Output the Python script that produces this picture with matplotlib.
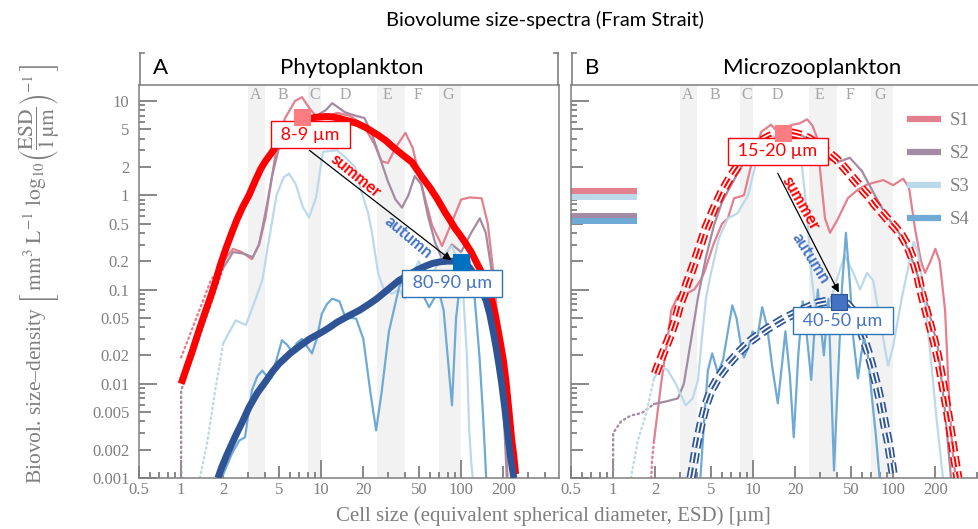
import matplotlib
matplotlib.use("Agg")
import matplotlib.pyplot as plt
from matplotlib.lines import Line2D
from matplotlib.ticker import FixedLocator, FixedFormatter, NullFormatter

plt.rcParams["lines.scale_dashes"] = False
plt.rcParams["mathtext.fontset"] = "stix"
plt.rcParams["font.family"] = ["Liberation Serif", "DejaVu Serif"]

# ---------------- data ----------------
series_names = ["S1", "S2", "S3", "S4"]

x_ticks = [0.5, 1, 2, 5, 10, 20, 50, 100, 200]
x_tick_labels = ["0.5", "1", "2", "5", "10", "20", "50", "100", "200"]
x_minor = [0.6, 0.7, 0.8, 0.9, 3, 4, 6, 7, 8, 9, 30, 40, 60, 70, 80, 90, 300, 400]
y_ticks = [0.001, 0.002, 0.005, 0.01, 0.02, 0.05, 0.1, 0.2, 0.5, 1, 2, 5, 10]
y_tick_labels = ["0.001", "0.002", "0.005", "0.01", "0.02", "0.05", "0.1",
                 "0.2", "0.5", "1", "2", "5", "10"]
y_minor = [0.003, 0.004, 0.006, 0.007, 0.008, 0.009, 0.03, 0.04, 0.06, 0.07,
           0.08, 0.09, 0.3, 0.4, 0.6, 0.7, 0.8, 0.9, 3, 4, 6, 7, 8, 9]
decades = [0.001, 0.01, 0.1, 1, 10, 100]

band_letters = ["A", "B", "C", "D", "E", "F", "G"]
band_letter_x = [3.4, 5.3, 9, 15, 30, 49, 81]
bands = [(3, 4), (8, 10), (25, 40), (70, 100)]

# panel A - phytoplankton
a_s1_x = [2.0, 2.35, 2.7, 3.2, 3.6, 4.0, 4.4, 4.75, 5.5, 6.5, 7.3, 8.2, 9.5, 11, 13, 16, 20, 24,
          27, 30, 34, 40, 45, 52, 62, 73, 85, 100, 115, 140, 155, 174, 190, 205, 215]
a_s1_y = [0.2, 0.27, 0.25, 0.21, 0.3, 0.57, 1.4, 2.9, 6.5, 10, 11, 8.5, 6.5, 6.8, 7.5, 7.0, 5.6,
          3.5, 2.3, 2.2, 3.2, 4.6, 3.2, 1.3, 0.48, 0.29, 0.5, 0.9, 0.95, 0.93, 0.5, 0.11, 0.02,
          0.004, 0.001]
a_s2_x = [2.0, 2.35, 2.8, 3.25, 3.6, 4.0, 4.46, 5.0, 5.6, 7.0, 8.5, 10.8, 12, 14.8, 17.5, 20.4, 23,
          25.5, 30, 34, 37.8, 42, 46.6, 52, 58, 65, 73, 86, 100, 118, 136, 150, 166, 185, 200, 212]
a_s2_y = [0.17, 0.25, 0.24, 0.22, 0.3, 0.65, 1.6, 3.2, 5.2, 6.5, 6.5, 8, 9.5, 7.6, 7.0, 6.6, 4.5,
          2.87, 1.4, 0.9, 0.74, 1.0, 1.6, 1.3, 0.6, 0.32, 0.21, 0.3, 0.25, 0.4, 0.57, 0.4, 0.15,
          0.03, 0.006, 0.001]
a_s3_x = [2.0, 2.2, 2.45, 2.9, 3.3, 3.8, 4.1, 4.8, 5.4, 5.9, 6.6, 7.4, 8.2, 9.2, 10.3, 13, 15, 17.4,
          19, 21.6, 23, 25.5, 28, 32, 36, 40, 45, 50, 56, 63, 70, 78, 86, 95, 103, 110, 114, 118, 121]
a_s3_y = [0.027, 0.035, 0.047, 0.042, 0.07, 0.125, 0.25, 1.0, 1.55, 1.7, 1.3, 0.75, 0.58, 0.95,
          2.9, 3.0, 2.5, 2.0, 1.2, 0.66, 0.41, 0.15, 0.1, 0.09, 0.1, 0.08, 0.15, 0.2, 0.12, 0.15,
          0.2, 0.25, 0.29, 0.2, 0.1, 0.02, 0.0034, 0.0015, 0.001]
a_s4_x = [2.0, 2.3, 2.6, 2.86, 3.2, 3.5, 3.8, 4.1, 4.4, 4.8, 5.25, 5.7, 6.2, 6.7, 7.3, 7.9, 8.6,
          9.3, 10.1, 11, 12, 13.5, 15, 16.5, 17.8, 20, 22.5, 24.7, 27, 30.5, 36, 40, 45, 50, 55,
          59, 64, 69, 75, 80, 86, 92, 100, 108, 115, 125, 135, 143, 151]
a_s4_y = [0.0011, 0.0018, 0.0025, 0.0027, 0.0085, 0.012, 0.0138, 0.012, 0.0115, 0.018, 0.029,
          0.026, 0.022, 0.027, 0.03, 0.025, 0.021, 0.03, 0.055, 0.07, 0.08, 0.075, 0.049, 0.05,
          0.049, 0.03, 0.008, 0.0032, 0.008, 0.036, 0.105, 0.15, 0.16, 0.12, 0.08, 0.065, 0.08,
          0.1, 0.06, 0.02, 0.0059, 0.05, 0.15, 0.22, 0.2, 0.08, 0.02, 0.005, 0.001]
a_s1_dot_x = [1.0, 1.63, 2.0]
a_s1_dot_y = [0.019, 0.125, 0.2]
a_s2_dot_x = [1.0, 1.0, 1.86, 2.0]
a_s2_dot_y = [0.001, 0.0085, 0.125, 0.17]
a_s3_dot_x = [1.36, 1.53, 1.75, 2.0]
a_s3_dot_y = [0.001, 0.0023, 0.0085, 0.027]

a_summer_x = [1.0, 1.2, 1.35, 1.5, 1.65, 1.77, 1.9, 2.09, 2.3, 2.5, 2.75, 3.05, 3.4, 3.7, 4.0,
              4.46, 5.0, 5.5, 6.0, 6.6, 7.3, 8.0, 9.0, 10, 11, 12, 13.3, 14.8, 16, 18, 21, 25.5,
              29, 33, 38, 44.6, 52, 60, 68, 76.7, 83, 90, 98, 106.7, 118, 132, 141, 151, 163, 175,
              182, 190, 200, 209, 220, 230, 237, 245]
a_summer_y = [0.01, 0.022, 0.038, 0.06, 0.09, 0.125, 0.18, 0.273, 0.4, 0.55, 0.75, 1.0, 1.45,
              1.9, 2.3, 2.87, 3.7, 4.3, 5.0, 5.6, 6.1, 6.4, 6.7, 6.8, 6.85, 6.8, 6.6, 6.3, 6.1,
              5.8, 5.2, 4.35, 3.8, 3.2, 2.7, 2.24, 1.6, 1.2, 0.9, 0.66, 0.55, 0.45, 0.38, 0.316,
              0.25, 0.18, 0.15, 0.125, 0.085, 0.055, 0.04, 0.028, 0.018, 0.0107, 0.005, 0.0025,
              0.0018, 0.0011]
a_autumn_x = [1.83, 1.95, 2.1, 2.3, 2.5, 2.75, 3.05, 3.5, 4.0, 4.5, 5.0, 6.0, 7.0, 8.3, 9.7, 11.3,
              13, 15.5, 18.7, 22, 25, 30, 36, 43, 50, 57, 63, 71, 80, 90, 100, 108, 115, 122, 130,
              140, 151, 160, 170, 178, 186, 195, 205, 215, 225, 238]
a_autumn_y = [0.001, 0.0013, 0.0017, 0.0023, 0.003, 0.004, 0.0056, 0.008, 0.0105, 0.0135,
              0.0163, 0.021, 0.025, 0.03, 0.034, 0.039, 0.045, 0.052, 0.06, 0.07, 0.08, 0.1,
              0.125, 0.145, 0.165, 0.18, 0.19, 0.197, 0.2, 0.2, 0.195, 0.185, 0.17, 0.15, 0.13,
              0.1, 0.076, 0.055, 0.035, 0.024, 0.016, 0.01, 0.0055, 0.003, 0.0017, 0.001]
a_peaks = [(7.35, 6.8), (100, 0.194)]
a_peak_labels = ["8-9 µm", "80-90 µm"]

# panel B - microzooplankton
b_s1_x = [1.96, 2.2, 2.45, 2.6, 2.9, 3.3, 3.8, 4.2, 4.46, 5.2, 6.0, 6.6, 7.3, 8.6, 9.7, 11.4, 13.4,
          15, 17, 19, 21.5, 24.3, 26.5, 28.6, 30.5, 32.6, 35.4, 40, 47.5, 56, 65, 74, 85, 100, 118,
          130, 143, 158, 169, 185, 200, 215, 235, 250, 265, 280]
b_s1_y = [0.0025, 0.01, 0.03, 0.06, 0.085, 0.09, 0.1, 0.125, 0.15, 0.3, 0.5, 0.57, 0.93, 1.0, 2.1,
          4.7, 5.6, 4.7, 5.2, 5.6, 5.8, 6.4, 5.5, 4.1, 1.5, 0.57, 0.4, 0.55, 0.93, 1.15, 1.3, 1.37,
          1.45, 1.28, 1.5, 1.2, 0.45, 0.2, 0.15, 0.2, 0.27, 0.2, 0.06, 0.008, 0.002, 0.001]
b_s2_x = [1.96, 2.4, 2.9, 3.2, 3.6, 4.04, 4.6, 5.25, 6.0, 6.95, 8.6, 10.5, 13, 16, 21.6, 26, 30,
          35, 40, 49, 60, 74, 90, 110, 128, 150, 175, 209, 235, 259]
b_s2_y = [0.0061, 0.0065, 0.007, 0.01, 0.029, 0.083, 0.22, 0.48, 0.85, 1.28, 2.24, 3.2, 4.0, 4.4,
          4.4, 3.8, 3.0, 2.4, 2.24, 2.5, 1.8, 1.0, 0.6, 0.4, 0.27, 0.14, 0.07, 0.024, 0.005, 0.001]
b_s3_x = [1.96, 2.2, 2.45, 2.8, 3.3, 3.7, 4.04, 4.3, 4.6, 5.0, 5.7, 6.6, 7.7, 9.2, 10.7, 13, 16,
          19, 22, 24, 26, 28, 31, 36, 41, 45, 52, 58, 65, 72, 80, 92, 100, 115, 131, 140, 150, 165,
          185, 205, 227]
b_s3_y = [0.0115, 0.015, 0.014, 0.01, 0.0059, 0.007, 0.011, 0.03, 0.08, 0.15, 0.35, 0.57, 0.64,
          1.0, 2.5, 4.0, 4.5, 4.3, 2.5, 0.73, 0.15, 0.06, 0.04, 0.08, 0.15, 0.23, 0.15, 0.1, 0.15,
          0.125, 0.05, 0.0155, 0.025, 0.08, 0.2, 0.32, 0.25, 0.1, 0.02, 0.004, 0.001]
b_s4_x = [4.2, 4.5, 4.75, 5.1, 5.6, 6.1, 6.6, 7.1, 7.6, 8.1, 8.6, 9.3, 9.9, 10.7, 11.6, 12.6, 13.7,
          15, 16, 17, 18.3, 19.5, 21, 22.6, 24.3, 26, 27.5, 29, 30.5, 32, 34.5, 37.8, 41, 43.2, 46,
          49.2, 52, 56, 59, 62, 66, 70, 75, 80]
b_s4_y = [0.001, 0.0048, 0.0138, 0.021, 0.013, 0.018, 0.036, 0.068, 0.05, 0.028, 0.019, 0.025,
          0.036, 0.03, 0.065, 0.04, 0.015, 0.0062, 0.015, 0.036, 0.012, 0.0027, 0.02, 0.075, 0.03,
          0.011, 0.04, 0.1, 0.04, 0.02, 0.08, 0.0012, 0.02, 0.11, 0.4, 0.11, 0.03, 0.0114, 0.02,
          0.031, 0.02, 0.008, 0.003, 0.001]
b_s1_dot_x = [1.87, 1.9, 1.96]
b_s1_dot_y = [0.001, 0.0016, 0.0025]
b_s2_dot_x = [1.0, 1.0, 1.14, 1.34, 1.6, 1.96]
b_s2_dot_y = [0.0012, 0.003, 0.004, 0.0046, 0.0049, 0.0061]
b_s3_dot_x = [1.34, 1.5, 1.72, 1.96]
b_s3_dot_y = [0.001, 0.0025, 0.0048, 0.0115]

b_summer_x = [2.0, 2.15, 2.3, 2.5, 2.68, 2.85, 3.0, 3.2, 3.36, 3.7, 4.04, 4.6, 5.25, 6.0, 6.95,
              7.7, 8.6, 9.5, 10.5, 11.7, 13, 14.5, 16, 18, 20, 22.5, 25, 27.5, 30, 33, 36, 39.5,
              43, 47, 52, 57, 62, 68, 74, 82, 92, 103, 115, 127, 140, 150, 160, 172, 185, 197,
              209, 224, 240, 256, 272, 290]
b_summer_y = [0.0128, 0.017, 0.022, 0.03, 0.04, 0.053, 0.07, 0.09, 0.115, 0.17, 0.25, 0.45, 0.72,
              1.1, 1.6, 2.0, 2.5, 2.95, 3.4, 3.85, 4.2, 4.45, 4.6, 4.65, 4.5, 4.3, 4.0, 3.65, 3.3,
              3.0, 2.7, 2.4, 2.1, 1.8, 1.5, 1.28, 1.1, 0.95, 0.8, 0.67, 0.55, 0.46, 0.375, 0.29,
              0.2, 0.14, 0.09, 0.06, 0.04, 0.028, 0.019, 0.011, 0.006, 0.0033, 0.0018, 0.001]
b_autumn_x = [3.6, 3.75, 3.9, 4.05, 4.24, 4.6, 5.0, 5.7, 6.6, 8.0, 9.7, 12.5, 16.6, 22, 29, 35,
              41, 47, 51, 54, 58, 62, 66, 70, 74, 78, 82, 85, 88, 92, 97, 101]
b_autumn_y = [0.001, 0.0014, 0.002, 0.0027, 0.0037, 0.006, 0.0085, 0.012, 0.016, 0.022, 0.029,
              0.038, 0.049, 0.06, 0.072, 0.076, 0.077, 0.07, 0.061, 0.05, 0.039, 0.029, 0.022,
              0.016, 0.0115, 0.0085, 0.006, 0.0045, 0.0034, 0.0025, 0.0015, 0.001]
b_peaks = [(16.3, 4.57), (40.9, 0.0745)]
b_peak_labels = ["15-20 µm", "40-50 µm"]

# total level bars at the left of panel B (S1..S4)
b_bar_x = [0.5, 1.48]
b_bar_y = [1.1, 0.6, 0.95, 0.53]

# ---------------- style ----------------
W, H = 979, 529
GRAY = "#7f7f7f"
BAND = "#f2f2f2"
SANS = "Lato"
S_COLORS = ["#e3808f", "#a48aa2", "#bcd9ea", "#6eaad4"]
RED = "#ff0000"
DARKBLUE = "#2f5597"
TEXTBLUE = "#4472c4"


def fx(px):
    return px / W


def fy(py):
    return 1 - py / H


def setup(ax, show_labels):
    ax.set_xscale("log")
    ax.set_yscale("log")
    ax.set_xlim(0.5, 500)
    ax.set_ylim(0.001, 14.8)
    for lo, hi in bands:
        ax.axvspan(lo, hi, color=BAND, lw=0, zorder=0)
    for letter, xv in zip(band_letters, band_letter_x):
        ax.text(xv, 0.975, letter, transform=ax.get_xaxis_transform(), ha="center",
                va="center", color="#a6a6a6", fontsize=11.5)
    ax.xaxis.set_major_locator(FixedLocator(x_ticks))
    ax.xaxis.set_major_formatter(FixedFormatter(x_tick_labels))
    ax.xaxis.set_minor_locator(FixedLocator(x_minor))
    ax.xaxis.set_minor_formatter(NullFormatter())
    ax.yaxis.set_major_locator(FixedLocator(y_ticks))
    if show_labels:
        ax.yaxis.set_major_formatter(FixedFormatter(y_tick_labels))
    else:
        ax.yaxis.set_major_formatter(NullFormatter())
    ax.yaxis.set_minor_locator(FixedLocator(y_minor))
    ax.yaxis.set_minor_formatter(NullFormatter())
    ax.tick_params(which="both", direction="in", color=GRAY, width=1.3,
                   labelcolor=GRAY, labelsize=12)
    ax.tick_params(which="major", length=8.5)
    ax.tick_params(which="minor", length=4.5)
    ax.tick_params(axis="x", pad=3)
    ax.tick_params(axis="y", pad=7)
    for sp in ax.spines.values():
        sp.set_color(GRAY)
        sp.set_linewidth(1.1)
    for tick, v in zip(ax.xaxis.get_major_ticks(), x_ticks):
        if v in decades:
            tick.tick1line.set_markersize(13)
    for tick, v in zip(ax.yaxis.get_major_ticks(), y_ticks):
        if v in decades:
            tick.tick1line.set_markersize(13)


def spectra(ax, curves, dots):
    for (xs, ys), c in zip(curves, S_COLORS):
        ax.plot(xs, ys, color=c, lw=1.6, zorder=2, solid_joinstyle="round")
    for (xs, ys), c in zip(dots, S_COLORS):
        ax.plot(xs, ys, color=c, lw=1.7, ls=(0, (1, 2.6)), dash_capstyle="round", zorder=2)


def striped(ax, xs, ys, color):
    dash = (0, (7.5, 3.5))
    ax.plot(xs, ys, color=color, lw=6.5, ls=dash, dash_capstyle="butt", zorder=3)
    ax.plot(xs, ys, color="white", lw=4.0, ls=dash, dash_capstyle="butt", zorder=3)
    ax.plot(xs, ys, color=color, lw=1.5, ls=dash, dash_capstyle="butt", zorder=3)


def peak_box(ax, xy, text, offset, tcolor, ecolor):
    ax.annotate(" " + text + " ", xy=xy, xytext=offset, textcoords="offset pixels",
                ha="center", va="center", fontsize=13, family=SANS, color=tcolor, zorder=6,
                bbox=dict(boxstyle="square,pad=0.3", fc="white", ec=ecolor, lw=1.0))


def marker(ax, xy, fc, ec):
    ax.plot([xy[0]], [xy[1]], ls="none", marker="s", ms=11.5, mfc=fc, mec=ec, mew=0.8, zorder=7)


def arrow(ax, tail, head):
    ax.annotate("", xy=head, xytext=tail, zorder=6,
                arrowprops=dict(arrowstyle="-|>", color="black", lw=0.9,
                                mutation_scale=12, shrinkA=0, shrinkB=0))


def season(ax, xy, text, color, rot):
    ax.text(xy[0], xy[1], text, color=color, rotation=rot, rotation_mode="anchor",
            ha="center", va="center", fontsize=12, family=SANS, fontweight="bold", zorder=6)


fig = plt.figure(figsize=(W / 100, H / 100), dpi=100)
ax_a = fig.add_axes([fx(139), fy(478), 420 / W, 393 / H])
ax_b = fig.add_axes([fx(571), fy(478), 420 / W, 393 / H])
setup(ax_a, True)
setup(ax_b, False)

# ---- panel A ----
spectra(ax_a, [(a_s1_x, a_s1_y), (a_s2_x, a_s2_y), (a_s3_x, a_s3_y), (a_s4_x, a_s4_y)],
        [(a_s1_dot_x, a_s1_dot_y), (a_s2_dot_x, a_s2_dot_y), (a_s3_dot_x, a_s3_dot_y)])
ax_a.plot(a_summer_x, a_summer_y, color=RED, lw=5, zorder=3, solid_capstyle="butt",
          solid_joinstyle="round")
ax_a.plot(a_autumn_x, a_autumn_y, color="#2f5496", lw=5, zorder=3, solid_capstyle="butt",
          solid_joinstyle="round")
arrow(ax_a, (8.25, 3.0), (85.3, 0.204))
season(ax_a, (17.6, 1.59), "summer", RED, -39)
season(ax_a, (42, 0.357), "autumn", TEXTBLUE, -40)
peak_box(ax_a, a_peaks[0], a_peak_labels[0], (8, -18), RED, RED)
peak_box(ax_a, a_peaks[1], a_peak_labels[1], (-9, -21), TEXTBLUE, "#2e75b6")
marker(ax_a, a_peaks[0], "#ff7c80", "#ff7c80")
marker(ax_a, a_peaks[1], "#0070c0", "#0070c0")

# ---- panel B ----
for yv, c in zip(b_bar_y, S_COLORS):
    ax_b.plot(b_bar_x, [yv, yv], color=c, lw=4.3, solid_capstyle="butt", zorder=2)
spectra(ax_b, [(b_s1_x, b_s1_y), (b_s2_x, b_s2_y), (b_s3_x, b_s3_y), (b_s4_x, b_s4_y)],
        [(b_s1_dot_x, b_s1_dot_y), (b_s2_dot_x, b_s2_dot_y), (b_s3_dot_x, b_s3_dot_y)])
striped(ax_b, b_summer_x, b_summer_y, RED)
striped(ax_b, b_autumn_x, b_autumn_y, DARKBLUE)
arrow(ax_b, (15, 1.71), (40.9, 0.093))
season(ax_b, (21.9, 0.82), "summer", RED, -60)
season(ax_b, (25.8, 0.214), "autumn", TEXTBLUE, -58)
peak_box(ax_b, b_peaks[0], b_peak_labels[0], (-5, -18), RED, RED)
peak_box(ax_b, b_peaks[1], b_peak_labels[1], (4, -19), TEXTBLUE, "#2e75b6")
marker(ax_b, b_peaks[0], "#ff7c80", "#ff7c80")
marker(ax_b, b_peaks[1], TEXTBLUE, "#2f528f")

handles = [Line2D([], [], color=c, lw=4.5) for c in S_COLORS]
fig.legend(handles, series_names, loc="upper left", bbox_to_anchor=(fx(910), fy(112)),
           frameon=False, handlelength=1.5, handletextpad=0.6, labelspacing=0.85,
           borderaxespad=0, borderpad=0, fontsize=13.5, labelcolor=GRAY)

# ---- panel headers ----
for x0, x1 in [(140, 558), (572, None)]:
    for xp, sign in [(x0, 1), (x1, -1)]:
        if xp is None:
            continue
        fig.add_artist(Line2D([fx(xp), fx(xp)], [fy(53), fy(85)], color=GRAY, lw=1.2))
        fig.add_artist(Line2D([fx(xp), fx(xp + sign * 4)], [fy(53), fy(53)], color=GRAY, lw=1.2))

fig.text(fx(161), fy(68), "A", ha="center", va="center", fontsize=16, family=SANS)
fig.text(fx(352), fy(68), "Phytoplankton", ha="center", va="center", fontsize=16, family=SANS)
fig.text(fx(592), fy(68), "B", ha="center", va="center", fontsize=16, family=SANS)
fig.text(fx(812), fy(68), "Microzooplankton", ha="center", va="center", fontsize=16, family=SANS)
fig.text(fx(545), fy(20), "Biovolume size-spectra (Fram Strait)", ha="center", va="center",
         fontsize=14.5, family=SANS)

fig.text(fx(553), fy(516), "Cell size (equivalent spherical diameter, ESD) [µm]",
         ha="center", va="center", fontsize=15, color=GRAY)
fig.text(fx(40), fy(274),
         r"Biovol. size–density $\left[\,\mathrm{mm}^{3}\ \mathrm{L}^{-1}\ \log_{10}"
         r"\!\left(\dfrac{\mathrm{ESD}}{\mathrm{1\,µm}}\right)^{-1}\,\right]$",
         ha="center", va="center", rotation=90, fontsize=15.5, color=GRAY)

fig.savefig("out.png", dpi=100)
